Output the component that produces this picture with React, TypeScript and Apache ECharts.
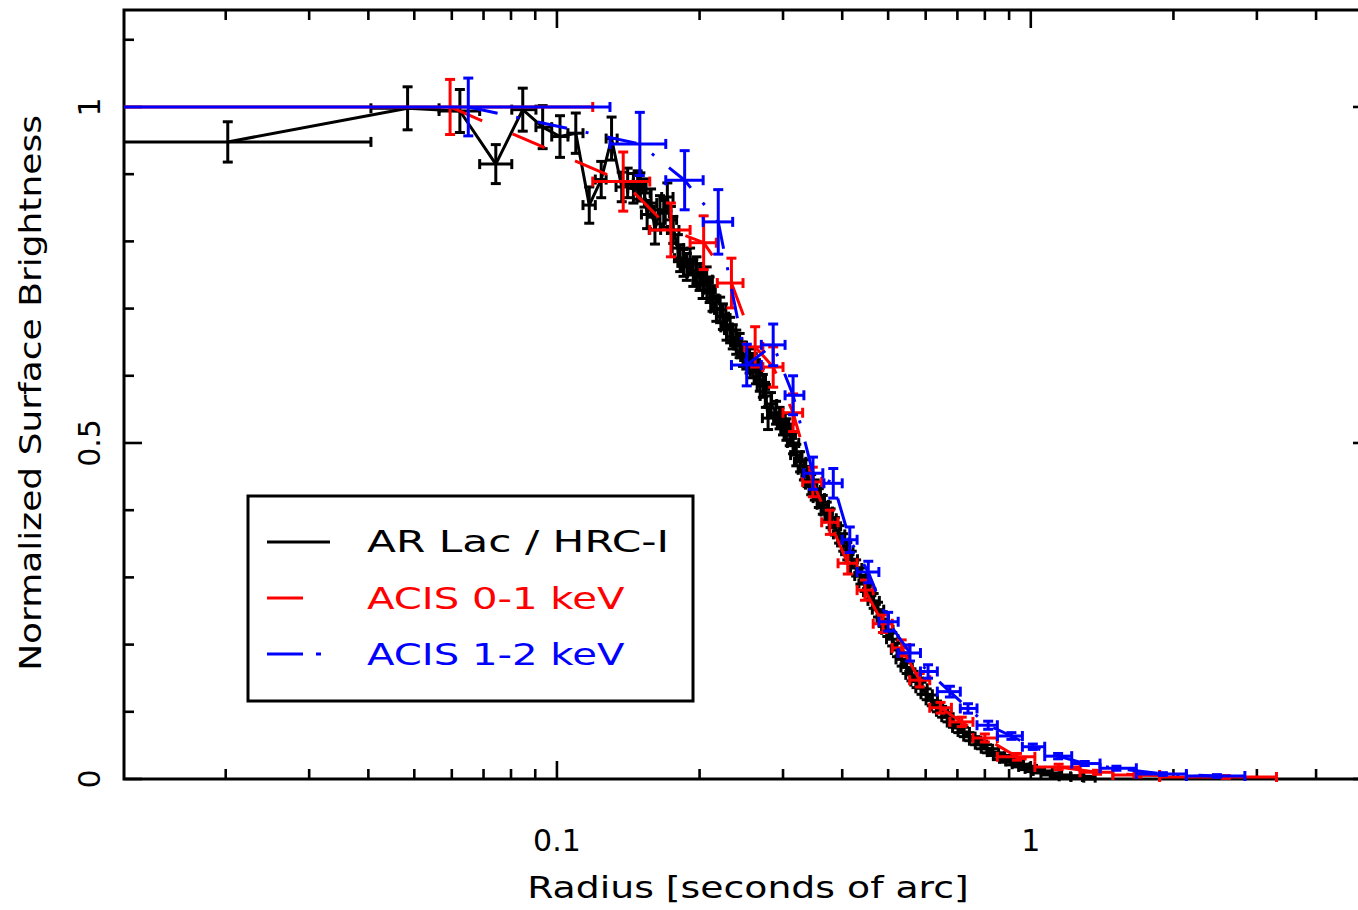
import React, { useEffect, useRef } from "react";
import * as echarts from "echarts";

// ---------- axis ranges ----------
const X_MIN = 0.0122;
const X_MAX = 5.0;
const Y_MIN = 0;
const Y_MAX = 1.1443;

// ---------- tick values ----------
const xMajorTicks = [0.1, 1];
const xMinorTicks = [0.02, 0.03, 0.04, 0.05, 0.06, 0.07, 0.08, 0.09, 0.2, 0.3, 0.4, 0.5, 0.6, 0.7, 0.8, 0.9, 2, 3, 4];
const yMajorTicks = [0, 0.5, 1];
const yMinorTicks = [0.1, 0.2, 0.3, 0.4, 0.6, 0.7, 0.8, 0.9, 1.1];

// ---------- legend / titles ----------
const seriesNames = ["AR Lac / HRC-I", "ACIS 0-1 keV", "ACIS 1-2 keV"];
const xTitle = "Radius [seconds of arc]";
const yTitle = "Normalized Surface Brightness";

// ---------- AR Lac / HRC-I : inner bins [r, b, rLo, rHi, db] ----------
const hrcInner: number[][] = [
  [0.0202, 0.948, 0, 0.0405, 0.03],
  [0.0484, 0.998, 0.0405, 0.0564, 0.032],
  [0.0624, 0.994, 0.0564, 0.0687, 0.032],
  [0.0743, 0.915, 0.0687, 0.0803, 0.029],
  [0.0847, 0.996, 0.0803, 0.0903, 0.032],
  [0.0933, 0.97, 0.0903, 0.0975, 0.032],
  [0.1015, 0.956, 0.0975, 0.1055, 0.031],
  [0.1096, 0.961, 0.1055, 0.1135, 0.03],
  [0.117, 0.854, 0.1135, 0.1205, 0.027],
  [0.124, 0.892, 0.1205, 0.127, 0.027],
  [0.1304, 0.953, 0.127, 0.134, 0.032],
];
// ---------- AR Lac / HRC-I : outer bins [r, b, db] ----------
const hrcBinHalfWidthDex = 0.012;
const hrcOuter: number[][] = [
  [0.137, 0.881, 0.022], [0.141, 0.887, 0.022], [0.145, 0.879, 0.022], [0.148, 0.884, 0.021],
  [0.15, 0.881, 0.021], [0.153, 0.872, 0.021], [0.155, 0.84, 0.021], [0.158, 0.857, 0.021],
  [0.161, 0.817, 0.021], [0.165, 0.847, 0.021], [0.168, 0.842, 0.021], [0.171, 0.866, 0.021],
  [0.174, 0.832, 0.02], [0.176, 0.817, 0.02], [0.18, 0.79, 0.02], [0.182, 0.775, 0.02],
  [0.185, 0.768, 0.02], [0.188, 0.762, 0.02], [0.191, 0.77, 0.02], [0.194, 0.753, 0.02],
  [0.197, 0.757, 0.02], [0.2, 0.747, 0.02], [0.203, 0.735, 0.02], [0.207, 0.743, 0.019],
  [0.21, 0.728, 0.019], [0.213, 0.715, 0.019], [0.217, 0.7, 0.019], [0.221, 0.698, 0.019],
  [0.224, 0.688, 0.019], [0.228, 0.672, 0.019], [0.232, 0.668, 0.019], [0.235, 0.658, 0.018],
  [0.239, 0.65, 0.018], [0.243, 0.645, 0.018], [0.247, 0.632, 0.018], [0.251, 0.628, 0.018],
  [0.255, 0.622, 0.018], [0.259, 0.615, 0.018], [0.263, 0.606, 0.018], [0.268, 0.594, 0.017],
  [0.272, 0.585, 0.017], [0.276, 0.57, 0.017], [0.279, 0.537, 0.017], [0.283, 0.558, 0.017],
  [0.29, 0.545, 0.017], [0.295, 0.537, 0.016], [0.3, 0.528, 0.016], [0.305, 0.52, 0.016],
  [0.31, 0.512, 0.016], [0.315, 0.5, 0.016], [0.32, 0.482, 0.016], [0.326, 0.472, 0.015],
  [0.332, 0.46, 0.015], [0.338, 0.45, 0.015], [0.344, 0.438, 0.015], [0.35, 0.43, 0.015],
  [0.357, 0.418, 0.014], [0.364, 0.408, 0.014], [0.371, 0.398, 0.014], [0.378, 0.388, 0.014],
  [0.386, 0.376, 0.013], [0.394, 0.364, 0.013], [0.402, 0.352, 0.013], [0.41, 0.339, 0.013],
  [0.419, 0.327, 0.012], [0.428, 0.314, 0.012], [0.437, 0.302, 0.012], [0.446, 0.291, 0.012],
  [0.456, 0.278, 0.011], [0.466, 0.265, 0.011], [0.476, 0.252, 0.011], [0.487, 0.238, 0.011],
  [0.498, 0.222, 0.01], [0.51, 0.208, 0.01], [0.522, 0.192, 0.01], [0.534, 0.178, 0.01],
  [0.547, 0.166, 0.009], [0.56, 0.155, 0.009], [0.574, 0.145, 0.009], [0.588, 0.135, 0.009],
  [0.603, 0.126, 0.008], [0.618, 0.117, 0.008], [0.634, 0.108, 0.008], [0.65, 0.1, 0.008],
  [0.667, 0.092, 0.007], [0.685, 0.084, 0.007], [0.703, 0.076, 0.007], [0.722, 0.07, 0.007],
  [0.742, 0.063, 0.006], [0.763, 0.057, 0.006], [0.785, 0.051, 0.006], [0.808, 0.045, 0.006],
  [0.832, 0.04, 0.005], [0.857, 0.034, 0.005], [0.883, 0.03, 0.005], [0.91, 0.026, 0.005],
  [0.939, 0.022, 0.004], [0.969, 0.018, 0.004], [1.0, 0.015, 0.004], [1.04, 0.012, 0.003],
  [1.08, 0.009, 0.003], [1.13, 0.006, 0.003], [1.18, 0.004, 0.002], [1.25, 0.003, 0.002],
  [1.33, 0.002, 0.002],
];

// ---------- ACIS 0-1 keV [r, b, rLo, rHi, db] ----------
const acisSoft: number[][] = [
  [0.0595, 1.0, 0, 0.119, 0.041],
  [0.138, 0.889, 0.119, 0.157, 0.044],
  [0.174, 0.817, 0.157, 0.191, 0.04],
  [0.204, 0.798, 0.191, 0.217, 0.04],
  [0.2335, 0.738, 0.218, 0.247, 0.037],
  [0.262, 0.643, 0.249, 0.272, 0.03],
  [0.286, 0.613, 0.272, 0.3, 0.03],
  [0.315, 0.545, 0.3, 0.33, 0.028],
  [0.3467, 0.442, 0.33, 0.362, 0.022],
  [0.3767, 0.382, 0.362, 0.392, 0.018],
  [0.411, 0.321, 0.392, 0.43, 0.016],
  [0.4467, 0.281, 0.43, 0.465, 0.015],
  [0.4875, 0.231, 0.465, 0.51, 0.013],
  [0.534, 0.195, 0.51, 0.555, 0.012],
  [0.583, 0.147, 0.555, 0.612, 0.01],
  [0.645, 0.106, 0.612, 0.68, 0.008],
  [0.715, 0.085, 0.675, 0.755, 0.007],
  [0.8, 0.061, 0.755, 0.85, 0.006],
  [0.935, 0.033, 0.85, 1.02, 0.005],
  [1.145, 0.018, 1.02, 1.27, 0.004],
  [1.38, 0.01, 1.27, 1.49, 0.003],
  [1.68, 0.006, 1.49, 1.87, 0.003],
  [2.58, 0.003, 1.87, 3.3, 0.002],
];

// ---------- ACIS 1-2 keV [r, b, rLo, rHi, db] ----------
const acisHard: number[][] = [
  [0.065, 1.0, 0, 0.1294, 0.043],
  [0.1496, 0.945, 0.1294, 0.1697, 0.047],
  [0.186, 0.891, 0.1697, 0.2035, 0.044],
  [0.219, 0.829, 0.2035, 0.2349, 0.048],
  [0.2515, 0.616, 0.2335, 0.27, 0.031],
  [0.286, 0.646, 0.27, 0.303, 0.031],
  [0.315, 0.571, 0.303, 0.332, 0.029],
  [0.347, 0.455, 0.332, 0.364, 0.024],
  [0.383, 0.44, 0.366, 0.4, 0.022],
  [0.415, 0.356, 0.4, 0.43, 0.019],
  [0.454, 0.308, 0.43, 0.478, 0.016],
  [0.5, 0.234, 0.478, 0.525, 0.014],
  [0.556, 0.1875, 0.525, 0.585, 0.012],
  [0.607, 0.16, 0.585, 0.635, 0.01],
  [0.675, 0.13, 0.635, 0.71, 0.008],
  [0.737, 0.105, 0.71, 0.77, 0.007],
  [0.813, 0.08, 0.77, 0.85, 0.006],
  [0.91, 0.064, 0.85, 0.96, 0.005],
  [1.01, 0.048, 0.96, 1.07, 0.004],
  [1.142, 0.034, 1.07, 1.22, 0.004],
  [1.3, 0.023, 1.22, 1.4, 0.003],
  [1.516, 0.016, 1.4, 1.67, 0.003],
  [1.9, 0.0074, 1.67, 2.13, 0.002],
  [2.47, 0.0045, 2.13, 2.83, 0.002],
];

const FONT = "DejaVu Sans";
const LW = 3;
const CAP = 5;

function hrcAll(): number[][] {
  const f = Math.pow(10, hrcBinHalfWidthDex);
  return hrcInner.concat(hrcOuter.map((p) => [p[0], p[1], p[0] / f, p[0] * f, p[2]]));
}

function seg(x1: number, y1: number, x2: number, y2: number, color: string, w = LW) {
  return { type: "line", shape: { x1, y1, x2, y2 }, style: { stroke: color, lineWidth: w } };
}

function errorRender(color: string) {
  return (_params: any, api: any) => {
    const x = api.value(0);
    const y = api.value(1);
    const lo = api.value(2);
    const hi = api.value(3);
    const dy = api.value(4);
    const c = api.coord([x, y]);
    const pl = api.coord([Math.max(lo, X_MIN), y]);
    const ph = api.coord([Math.min(hi, X_MAX), y]);
    const pt = api.coord([x, Math.min(y + dy, Y_MAX)]);
    const pb = api.coord([x, Math.max(y - dy, Y_MIN)]);
    const children: any[] = [
      seg(pl[0], c[1], ph[0], c[1], color),
      seg(c[0], pt[1], c[0], pb[1], color),
      seg(c[0] - CAP, pt[1], c[0] + CAP, pt[1], color),
      seg(c[0] - CAP, pb[1], c[0] + CAP, pb[1], color),
    ];
    if (lo > X_MIN) children.push(seg(pl[0], c[1] - CAP, pl[0], c[1] + CAP, color));
    if (hi < X_MAX) children.push(seg(ph[0], c[1] - CAP, ph[0], c[1] + CAP, color));
    return { type: "group", children };
  };
}

function xTickRender(_params: any, api: any) {
  const v = api.value(0);
  const major = api.value(2) === 1;
  const len = major ? 18 : 10;
  const b = api.coord([v, Y_MIN]);
  const t = api.coord([v, Y_MAX]);
  return {
    type: "group",
    children: [seg(b[0], b[1], b[0], b[1] - len, "#000", 2.6), seg(t[0], t[1], t[0], t[1] + len, "#000", 2.6)],
  };
}

function yTickRender(_params: any, api: any) {
  const v = api.value(1);
  const major = api.value(2) === 1;
  const l = api.coord([X_MIN, v]);
  const r = api.coord([X_MAX, v]);
  const children: any[] = [seg(l[0], l[1], l[0] + (major ? 18 : 10), l[1], "#000", 2.6)];
  if (major) children.push(seg(r[0], r[1], r[0] - 9, r[1], "#000", 2.6));
  return { type: "group", children };
}

export default function App() {
  const ref = useRef<HTMLDivElement>(null);
  useEffect(() => {
    if (!ref.current) return;
    const chart = echarts.init(ref.current, null, { renderer: "svg" });
    const hrc = hrcAll();
    const colors = ["#000000", "#ff0000", "#0000ff"];
    const option: any = {
      animation: false,
      backgroundColor: "#ffffff",
      textStyle: { fontFamily: FONT },
      grid: {
        left: 124,
        top: 10,
        right: -4,
        bottom: 131,
        containLabel: false,
        outerBoundsMode: "none",
        show: true,
        borderColor: "#000",
        borderWidth: 3,
        backgroundColor: "transparent",
      },
      xAxis: {
        type: "log",
        logBase: 10,
        min: X_MIN,
        max: X_MAX,
        axisLine: { show: false },
        axisTick: { show: false },
        splitLine: { show: false },
        minorTick: { show: false },
        axisLabel: {
          show: true,
          showMinLabel: true,
          showMaxLabel: true,
          margin: 46,
          color: "#000",
          fontFamily: FONT,
          fontSize: 30,
          formatter: (v: number) => {
            const l = Math.log10(v);
            if (Math.abs(l - Math.round(l)) > 1e-6) return "";
            const p = Math.round(l);
            return p < 0 ? Math.pow(10, p).toFixed(-p) : String(Math.pow(10, p));
          },
        },
      },
      yAxis: {
        type: "value",
        min: Y_MIN,
        max: Y_MAX,
        interval: 0.5,
        axisLine: { show: false },
        axisTick: { show: false },
        splitLine: { show: false },
        axisLabel: {
          show: true,
          rotate: 90,
          showMinLabel: true,
          showMaxLabel: true,
          margin: 20,
          color: "#000",
          fontFamily: FONT,
          fontSize: 30,
          formatter: (v: number) => {
            const r = Math.round(v * 2) / 2;
            if (Math.abs(v - r) > 1e-6) return "";
            return String(r);
          },
        },
      },
      series: [
        {
          type: "custom",
          renderItem: xTickRender,
          data: xMajorTicks.map((v) => [v, Y_MIN, 1]).concat(xMinorTicks.map((v) => [v, Y_MIN, 0])),
          encode: { x: 0, y: 1 },
          z: 1,
        },
        {
          type: "custom",
          renderItem: yTickRender,
          data: yMajorTicks.map((v) => [X_MIN, v, 1]).concat(yMinorTicks.map((v) => [X_MIN, v, 0])),
          encode: { x: 0, y: 1 },
          z: 1,
        },
        {
          name: seriesNames[0],
          type: "line",
          data: hrc.map((p) => [p[0], p[1]]),
          showSymbol: false,
          symbol: "none",
          lineStyle: { color: colors[0], width: LW, type: "solid" },
          z: 2,
        },
        {
          type: "custom",
          renderItem: errorRender(colors[0]),
          data: hrc,
          encode: { x: 0, y: 1 },
          z: 2,
        },
        {
          name: seriesNames[1],
          type: "line",
          data: acisSoft.map((p) => [p[0], p[1]]),
          showSymbol: false,
          symbol: "none",
          lineStyle: { color: colors[1], width: LW, type: [35, 33] },
          z: 3,
        },
        {
          type: "custom",
          renderItem: errorRender(colors[1]),
          data: acisSoft,
          encode: { x: 0, y: 1 },
          z: 3,
        },
        {
          name: seriesNames[2],
          type: "line",
          data: acisHard.map((p) => [p[0], p[1]]),
          showSymbol: false,
          symbol: "none",
          lineStyle: { color: colors[2], width: LW, type: [30, 19, 3, 19] },
          z: 4,
        },
        {
          type: "custom",
          renderItem: errorRender(colors[2]),
          data: acisHard,
          encode: { x: 0, y: 1 },
          z: 4,
        },
      ],
      graphic: [
        {
          type: "text",
          x: 748,
          y: 887,
          scaleX: 1.26,
          style: {
            text: xTitle,
            fontFamily: FONT,
            fontSize: 30,
            fill: "#000",
            textAlign: "center",
            textVerticalAlign: "middle",
            align: "center",
            verticalAlign: "middle",
          },
        },
        {
          type: "text",
          x: 31,
          y: 393,
          rotation: Math.PI / 2,
          scaleX: 1.2,
          style: {
            text: yTitle,
            fontFamily: FONT,
            fontSize: 30,
            fill: "#000",
            textAlign: "center",
            textVerticalAlign: "middle",
            align: "center",
            verticalAlign: "middle",
          },
        },
        {
          type: "group",
          children: [
            {
              type: "rect",
              shape: { x: 248, y: 496, width: 445, height: 205 },
              style: { fill: "#ffffff", stroke: "#000", lineWidth: 3 },
            },
            { type: "line", shape: { x1: 267, y1: 542, x2: 330, y2: 542 }, style: { stroke: colors[0], lineWidth: LW } },
            { type: "line", shape: { x1: 267, y1: 598, x2: 303, y2: 598 }, style: { stroke: colors[1], lineWidth: LW } },
            { type: "line", shape: { x1: 267, y1: 654, x2: 303, y2: 654 }, style: { stroke: colors[2], lineWidth: LW } },
            { type: "line", shape: { x1: 316, y1: 654, x2: 321, y2: 654 }, style: { stroke: colors[2], lineWidth: LW } },
            ...seriesNames.map((name, i) => ({
              type: "text",
              x: 367,
              y: 542 + i * 56,
              scaleX: i === 0 ? 1.41 : 1.34,
              style: {
                text: name,
                fontFamily: FONT,
                fontSize: 30,
                fill: colors[i],
                textAlign: "left",
                textVerticalAlign: "middle",
                align: "left",
                verticalAlign: "middle",
              },
            })),
          ],
        },
      ],
    };
    chart.setOption(option);
    return () => chart.dispose();
  }, []);
  return (
    <div
      style={{ position: "fixed", left: 0, top: 0, width: 1358, height: 910, overflow: "hidden", background: "#fff" }}
    >
      <div ref={ref} style={{ width: 1358, height: 910 }} />
    </div>
  );
}
